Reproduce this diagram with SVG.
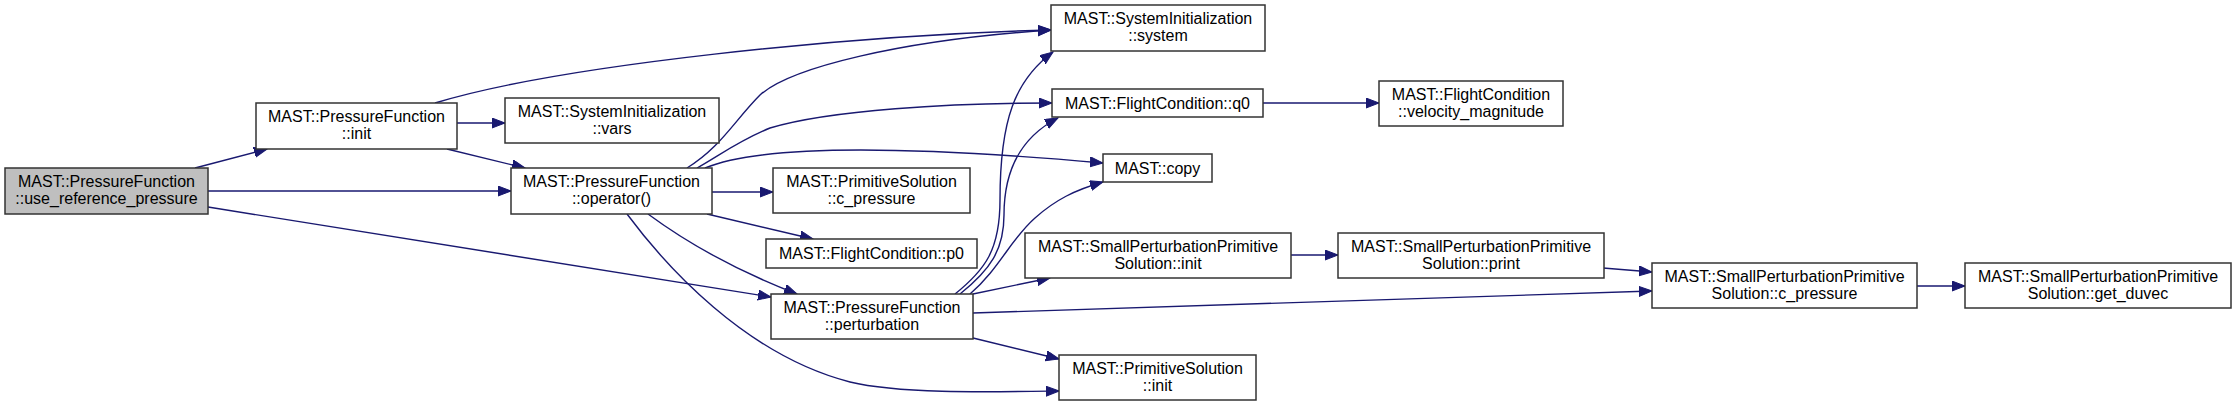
<svg xmlns="http://www.w3.org/2000/svg" width="2236" height="407" viewBox="0 0 2236 407">
<defs>
<marker id="arr" markerUnits="userSpaceOnUse" markerWidth="14" markerHeight="11" refX="13" refY="5" orient="auto">
<path d="M0,0 L13,5 L0,10 z" fill="#191970" stroke="#191970" stroke-width="1"/>
</marker>
<style>
.n rect{fill:#ffffff;stroke:#333333;stroke-width:1.5}
.n.cur rect{fill:#bfbfbf}
.n text{font-family:"Liberation Sans",Arial,sans-serif;font-size:16px;fill:#000000;text-anchor:middle}
.e path{fill:none;stroke:#191970;stroke-width:1.4;marker-end:url(#arr)}
</style>
</defs>
<rect width="2236" height="407" fill="#ffffff"/>
<g id="edges" class="e">
<path d="M195,168 L267,149"/>
<path d="M208,191 L511,191"/>
<path d="M208,207 L771,297"/>
<path d="M435,103 C560,65 850,35 1051,30"/>
<path d="M457,123 L505,123"/>
<path d="M447,149 L525,168"/>
<path d="M687,168 C720,148 735,120 760,95 C790,68 900,40 1051,30"/>
<path d="M697,168 C720,155 740,140 770,128 C830,110 950,103 1052,103"/>
<path d="M705,168 C760,145 900,145 1103,163"/>
<path d="M712,192 L773,192"/>
<path d="M707,214 L813,239"/>
<path d="M648,214 C690,245 740,272 797,294"/>
<path d="M627,214 C665,265 745,355 850,382 C900,394 990,392 1059,391"/>
<path d="M955,294 C985,270 1000,250 1000,200 C1000,120 1015,80 1053,52"/>
<path d="M960,294 C990,270 1004,250 1004,215 C1004,165 1025,135 1058,118"/>
<path d="M970,294 C1000,268 1010,240 1035,218 C1055,200 1075,190 1103,182"/>
<path d="M973,294 L1050,278"/>
<path d="M973,313 L1652,291"/>
<path d="M973,338 L1059,359"/>
<path d="M1291,255 L1338,255"/>
<path d="M1603,268 L1652,272"/>
<path d="M1917,286 L1965,286"/>
<path d="M1263,103 L1379,103"/>
</g>
<g id="use_reference_pressure" class="n cur"><rect x="5" y="168" width="203" height="46"/><text x="106.5" y="187">MAST::PressureFunction</text><text x="106.5" y="203.5">::use_reference_pressure</text></g>
<g id="pf_init" class="n"><rect x="256" y="103" width="201" height="46"/><text x="356.5" y="122">MAST::PressureFunction</text><text x="356.5" y="138.5">::init</text></g>
<g id="si_vars" class="n"><rect x="505" y="98" width="214" height="45"/><text x="612" y="117">MAST::SystemInitialization</text><text x="612" y="133.5">::vars</text></g>
<g id="pf_operator" class="n"><rect x="511" y="168" width="201" height="46"/><text x="611.5" y="187">MAST::PressureFunction</text><text x="611.5" y="203.5">::operator()</text></g>
<g id="si_system" class="n"><rect x="1051" y="5" width="214" height="46"/><text x="1158" y="24">MAST::SystemInitialization</text><text x="1158" y="40.5">::system</text></g>
<g id="fc_q0" class="n"><rect x="1052" y="89" width="211" height="28"/><text x="1157.5" y="108.5">MAST::FlightCondition::q0</text></g>
<g id="copy" class="n"><rect x="1103" y="154" width="109" height="28"/><text x="1157.5" y="173.5">MAST::copy</text></g>
<g id="fc_velocity" class="n"><rect x="1379" y="81" width="184" height="45"/><text x="1471" y="100">MAST::FlightCondition</text><text x="1471" y="116.5">::velocity_magnitude</text></g>
<g id="ps_c_pressure" class="n"><rect x="773" y="168" width="197" height="45"/><text x="871.5" y="187">MAST::PrimitiveSolution</text><text x="871.5" y="203.5">::c_pressure</text></g>
<g id="fc_p0" class="n"><rect x="766" y="239" width="211" height="29"/><text x="871.5" y="259">MAST::FlightCondition::p0</text></g>
<g id="pf_perturbation" class="n"><rect x="771" y="294" width="202" height="45"/><text x="872" y="313">MAST::PressureFunction</text><text x="872" y="329.5">::perturbation</text></g>
<g id="sp_init" class="n"><rect x="1025" y="233" width="266" height="45"/><text x="1158" y="252">MAST::SmallPerturbationPrimitive</text><text x="1158" y="268.5">Solution::init</text></g>
<g id="ps_init" class="n"><rect x="1059" y="355" width="197" height="45"/><text x="1157.5" y="374">MAST::PrimitiveSolution</text><text x="1157.5" y="390.5">::init</text></g>
<g id="sp_print" class="n"><rect x="1338" y="233" width="266" height="45"/><text x="1471" y="252">MAST::SmallPerturbationPrimitive</text><text x="1471" y="268.5">Solution::print</text></g>
<g id="sp_c_pressure" class="n"><rect x="1652" y="263" width="265" height="45"/><text x="1784.5" y="282">MAST::SmallPerturbationPrimitive</text><text x="1784.5" y="298.5">Solution::c_pressure</text></g>
<g id="sp_get_duvec" class="n"><rect x="1965" y="263" width="266" height="45"/><text x="2098" y="282">MAST::SmallPerturbationPrimitive</text><text x="2098" y="298.5">Solution::get_duvec</text></g>
</svg>
